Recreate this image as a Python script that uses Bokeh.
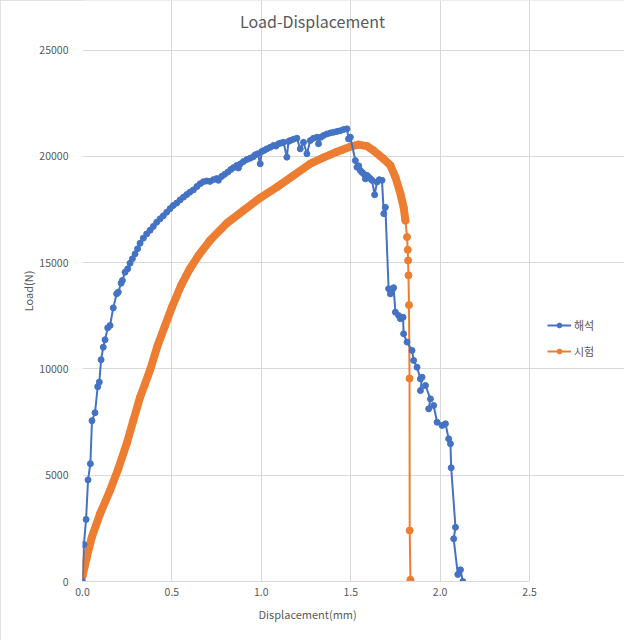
from bokeh.plotting import figure
from bokeh.models import (Range1d, FixedTicker, NumeralTickFormatter, Legend, LegendItem,
                          ColumnDataSource, Label, Title)
from bokeh.embed import file_html
from bokeh.resources import INLINE

# 해석 (analysis) series
ana_x = [0.000, 0.008, 0.020, 0.031, 0.044, 0.053, 0.070, 0.085, 0.094, 0.104,
         0.116, 0.126, 0.141, 0.154, 0.172, 0.191, 0.200, 0.216, 0.223, 0.238,
         0.253, 0.266, 0.279, 0.294, 0.308, 0.322, 0.340, 0.359, 0.378, 0.396,
         0.415, 0.434, 0.452, 0.471, 0.490, 0.508, 0.527, 0.546, 0.565, 0.583,
         0.600, 0.620, 0.640, 0.658, 0.676, 0.695, 0.713, 0.732, 0.750, 0.760,
         0.778, 0.795, 0.813, 0.830, 0.845, 0.863, 0.872, 0.882, 0.900, 0.919,
         0.938, 0.955, 0.966, 0.980, 0.994, 1.003, 1.017, 1.031, 1.050, 1.068,
         1.082, 1.096, 1.110, 1.124, 1.143, 1.152, 1.162, 1.180, 1.199, 1.218,
         1.236, 1.255, 1.274, 1.292, 1.311, 1.320, 1.334, 1.348, 1.367, 1.386,
         1.404, 1.423, 1.441, 1.460, 1.479, 1.488, 1.498, 1.526, 1.535, 1.545,
         1.554, 1.563, 1.572, 1.582, 1.591, 1.600, 1.610, 1.619, 1.634, 1.647,
         1.660, 1.675, 1.685, 1.694, 1.712, 1.722, 1.731, 1.740, 1.750, 1.768,
         1.778, 1.793, 1.796, 1.815, 1.843, 1.852, 1.871, 1.890, 1.899, 1.890,
         1.918, 1.946, 1.936, 1.964, 1.983, 2.011, 2.030, 2.048, 2.058, 2.062,
         2.086, 2.076, 2.099, 2.114, 2.127]
ana_y = [0, 1740, 2920, 4780, 5540, 7560, 7940, 9160, 9380, 10430,
         11020, 11370, 11930, 12040, 12870, 13530, 13610, 14030, 14160, 14550,
         14710, 14970, 15180, 15410, 15650, 15910, 16150, 16350, 16520, 16700,
         16900, 17060, 17200, 17370, 17540, 17690, 17800, 17950, 18080, 18200,
         18310, 18420, 18580, 18710, 18800, 18840, 18820, 18900, 18950, 18870,
         19050, 19150, 19260, 19380, 19470, 19570, 19450, 19640, 19750, 19850,
         19910, 19980, 20070, 20120, 19650, 20230, 20280, 20350, 20420, 20510,
         20480, 20590, 20620, 20660, 19960, 20700, 20740, 20800, 20850, 20350,
         20660, 20120, 20740, 20850, 20900, 20590, 20900, 20980, 21050, 21100,
         21130, 21170, 21200, 21260, 21290, 20820, 20900, 19800, 19490, 19550,
         19330, 19250, 19180, 18940, 19100, 19020, 18950, 18870, 18190, 18790,
         18900, 18870, 17300, 17600, 13770, 13530, 13700, 13820, 12670, 12510,
         12360, 12430, 11650, 11260, 10870, 10400, 10080, 9530, 9610, 8980,
         9220, 8590, 8120, 8280, 7490, 7340, 7420, 6710, 6480, 5350,
         2550, 2010, 330, 550, 0]

# 시험 (test) series
test_x = [0.000, 0.024, 0.052, 0.098, 0.154, 0.200, 0.247, 0.284, 0.322, 0.350,
          0.380, 0.420, 0.460, 0.500, 0.550, 0.600, 0.650, 0.714, 0.807, 0.900,
          0.994, 1.087, 1.180, 1.274, 1.350, 1.420, 1.498, 1.544, 1.591, 1.628,
          1.684, 1.722, 1.750, 1.778, 1.796, 1.806,
          1.815, 1.819, 1.821, 1.823, 1.826, 1.829, 1.830, 1.834, 1.835]
test_y = [250, 1150, 2080, 3180, 4280, 5300, 6480, 7570, 8670, 9300,
          10000, 11100, 12000, 12900, 13900, 14700, 15350, 16050, 16850, 17450,
          18050, 18550, 19100, 19650, 19950, 20200, 20450, 20550, 20480, 20270,
          19880, 19570, 19020, 18240, 17600, 16980,
          16200, 15600, 15100, 14400, 13000, 9550, 2400, 80, 0]
test_dense_count = 36

x_ticks = [0.0, 0.5, 1.0, 1.5, 2.0, 2.5]
y_ticks = [0, 5000, 10000, 15000, 20000, 25000]

BLUE = "#4472C4"
ORANGE = "#ED7D31"
GREY = "#595959"
GRID = "#d9d9d9"
FONT = "Noto Sans CJK KR"

W, H = 624, 640
LEFT, BOTTOM = 82, 59
X_MAX, Y_MAX = 2.5, 25000
PLOT_W, PLOT_H = 447.0, 531.5   # pixel extent of the 0..2.5 / 0..25000 axes
# the frame is widened to the right (legend) and upward (title)
X_VIEW_END = X_MAX * (W - LEFT) / PLOT_W
Y_VIEW_END = Y_MAX * (H - BOTTOM) / PLOT_H

p = figure(width=W, height=H, output_backend="svg", toolbar_location=None,
           title_location=None,
           x_range=Range1d(0, X_VIEW_END), y_range=Range1d(0, Y_VIEW_END),
           min_border_left=LEFT, min_border_right=0, min_border_top=0, min_border_bottom=BOTTOM)
p.outline_line_color = None
p.background_fill_color = "white"
p.border_fill_color = "white"
p.styles = {"outline": "1px solid #d9d9d9", "outline-offset": "-1px"}

# chart title, centred over the chart area
p.add_layout(Label(x=X_MAX * (312 - LEFT) / PLOT_W, y=Y_MAX + 29 * Y_MAX / PLOT_H,
                   text="Load-Displacement", text_align="center", text_baseline="middle",
                   text_font=FONT, text_font_size="16px", text_color=GREY))

for ax in (p.xaxis[0], p.yaxis[0]):
    ax.axis_line_color = GRID
    ax.major_tick_line_color = None
    ax.minor_tick_line_color = None
    ax.major_tick_out = 0
    ax.major_tick_in = 0
    ax.minor_tick_out = 0
    ax.minor_tick_in = 0
    ax.major_label_text_font = FONT
    ax.major_label_text_font_size = "10.5px"
    ax.major_label_text_color = GREY
    ax.axis_label_text_font = FONT
    ax.axis_label_text_font_size = "11px"
    ax.axis_label_text_font_style = "normal"
    ax.axis_label_text_color = GREY

p.xaxis.ticker = FixedTicker(ticks=x_ticks)
p.xaxis.formatter = NumeralTickFormatter(format="0.0")
p.xaxis.bounds = (0, X_MAX)
p.yaxis.ticker = FixedTicker(ticks=y_ticks)
p.yaxis.axis_label = "Load(N)"
p.xaxis.major_label_standoff = 6
p.yaxis.major_label_standoff = 14
p.yaxis.axis_label_standoff = 0
p.yaxis.axis_line_color = None

# x axis title centred under the 0..2.5 axis
p.add_layout(Title(text="Displacement(mm)", align="left", offset=176, standoff=10,
                   text_line_height=1.5,
                   text_font=FONT, text_font_size="11px", text_font_style="normal",
                   text_color=GREY), "below")

p.xgrid.grid_line_color = GRID
p.ygrid.grid_line_color = GRID
p.xgrid.bounds = (0, Y_MAX)
p.ygrid.bounds = (0, X_MAX)

ana = ColumnDataSource(dict(x=ana_x, y=ana_y))
test = ColumnDataSource(dict(x=test_x, y=test_y))
test_dense = ColumnDataSource(dict(x=test_x[:test_dense_count], y=test_y[:test_dense_count]))

t_band = p.line("x", "y", source=test_dense, line_color=ORANGE, line_width=8, line_join="round", line_cap="round")
t_line = p.line("x", "y", source=test, line_color=ORANGE, line_width=2)
t_mark = p.scatter("x", "y", source=test, size=7, fill_color=ORANGE, line_color=ORANGE)

a_line = p.line("x", "y", source=ana, line_color=BLUE, line_width=2)
a_mark = p.scatter("x", "y", source=ana, size=6, fill_color=BLUE, line_color=BLUE)

legend = Legend(items=[LegendItem(label="해석", renderers=[a_line, a_mark]),
                       LegendItem(label="시험", renderers=[t_line, t_mark])],
                location=(465, 222))
legend.border_line_color = None
legend.background_fill_alpha = 0
legend.label_text_font = FONT
legend.label_text_font_size = "11px"
legend.label_text_color = GREY
legend.glyph_width = 24
legend.glyph_height = 12
legend.label_standoff = 3
legend.spacing = 10
p.add_layout(legend, "center")

open("out.html", "w").write(file_html(p, INLINE))
